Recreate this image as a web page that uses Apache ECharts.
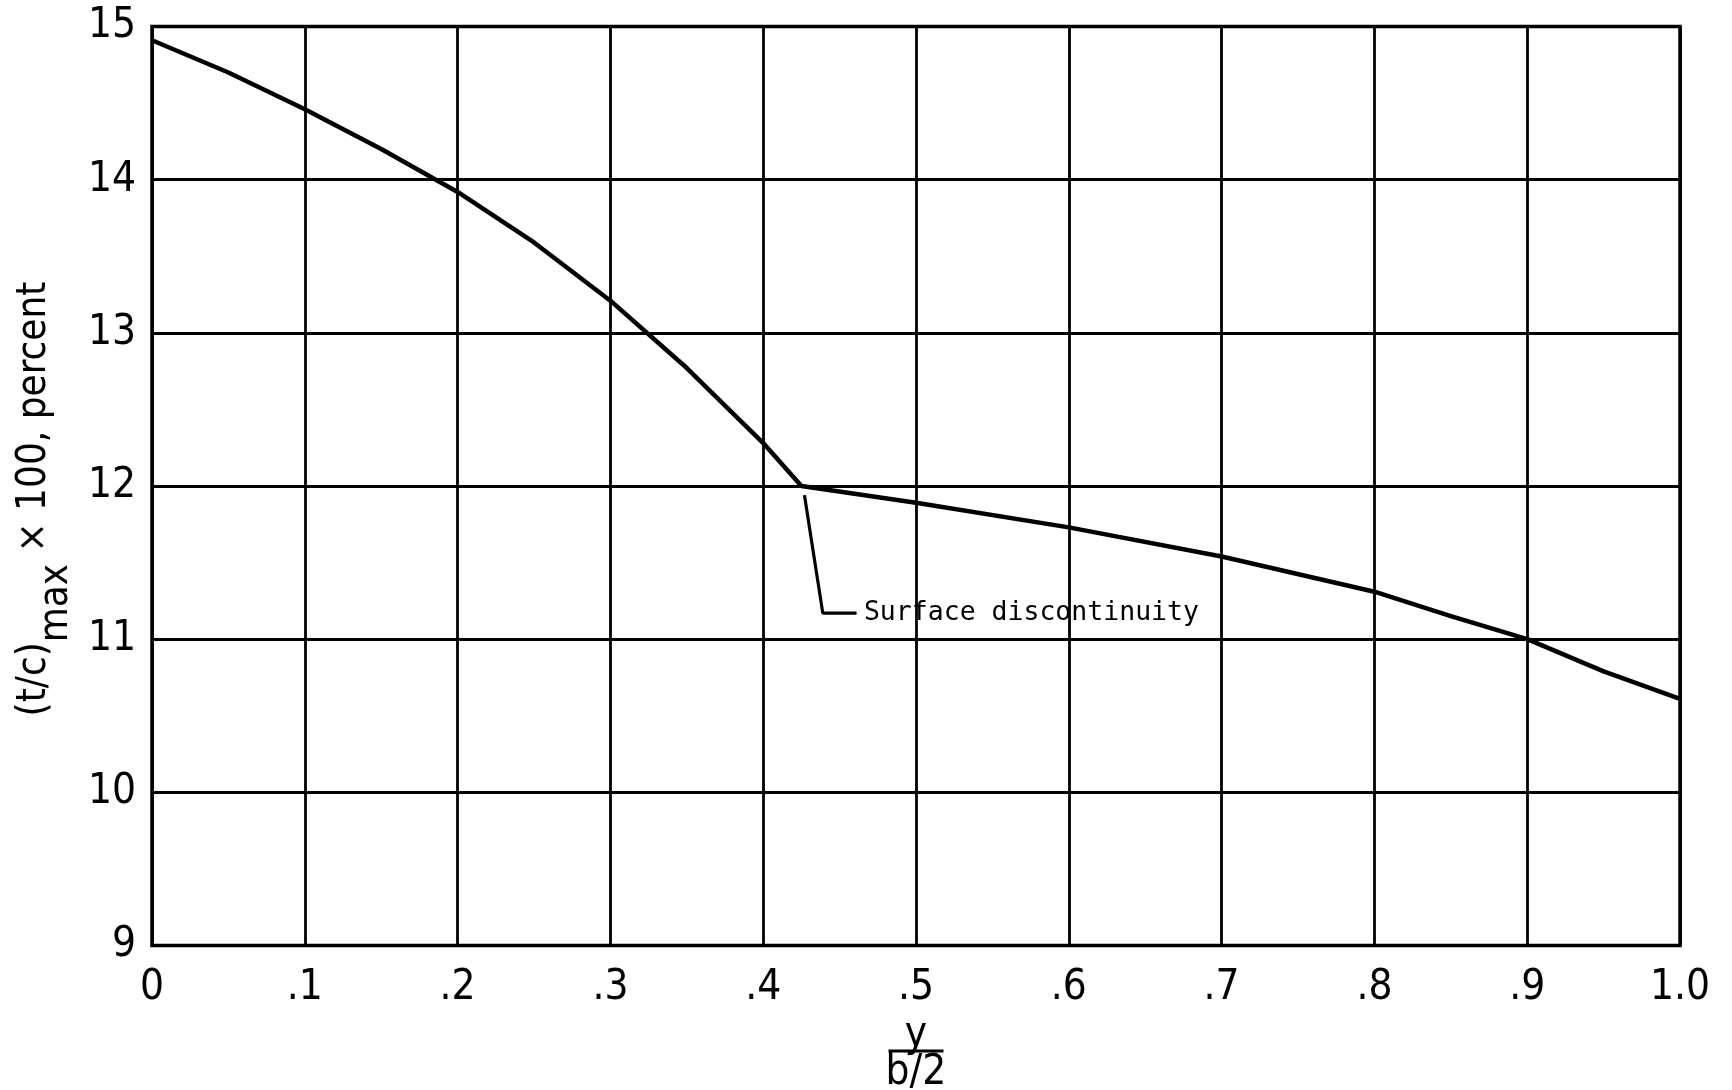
<!DOCTYPE html>
<html>
<head>
<meta charset="utf-8">
<script src="https://cdn.jsdelivr.net/npm/echarts@6/dist/echarts.min.js"></script>
<style>
html,body{margin:0;padding:0;background:#fff;}
#c{width:1732px;height:1090px;}
</style>
</head>
<body>
<div id="c"></div>
<script>
// ---- data ----
var spanX = [0, 0.05, 0.1, 0.15, 0.2, 0.25, 0.3, 0.35, 0.4, 0.425, 0.5, 0.6, 0.7, 0.8, 0.85, 0.9, 0.95, 1.0];
var thickness = [14.91, 14.70, 14.46, 14.20, 13.92, 13.59, 13.21, 12.77, 12.28, 12.0, 11.89, 11.73, 11.54, 11.31, 11.15, 11.00, 10.79, 10.61];
var leaderX = [0.427, 0.439, 0.461];
var leaderY = [11.94, 11.17, 11.17];
var annotationText = 'Surface discontinuity';
var xTickLabels = ['0', '.1', '.2', '.3', '.4', '.5', '.6', '.7', '.8', '.9', '1.0'];
var yTickLabels = ['9', '10', '11', '12', '13', '14', '15'];

var FONT = '"Liberation Sans Narrow", "DejaVu Sans Condensed", "Roboto Condensed", "DejaVu Sans", sans-serif';

var curveData = spanX.map(function (x, i) { return [x, thickness[i]]; });
var leaderData = leaderX.map(function (x, i) {
  var item = { value: [x, leaderY[i]] };
  if (i === leaderX.length - 1) {
    item.label = {
      show: true, position: 'right', distance: 7,
      formatter: annotationText,
      fontFamily: '"DejaVu Sans Mono", "Liberation Mono", monospace',
      fontSize: 26.5, color: '#000'
    };
  }
  return item;
});

var chart = echarts.init(document.getElementById('c'), null, { renderer: 'canvas' });
chart.setOption({
  backgroundColor: '#fff',
  animation: false,
  grid: {
    left: 152, right: 52, top: 26.5, bottom: 144.5,
    containLabel: false, outerBoundsMode: 'none',
    show: true, borderColor: '#000', borderWidth: 3.5, backgroundColor: 'transparent'
  },
  xAxis: {
    type: 'value', min: 0, max: 1, interval: 0.1,
    axisLine: { show: false }, axisTick: { show: false },
    splitLine: { show: true, lineStyle: { color: '#000', width: 2.8 } },
    axisLabel: {
      margin: 22, color: '#000', fontSize: 42, fontFamily: FONT,
      formatter: function (v) { return xTickLabels[Math.round(v * 10)]; }
    },
    name: '{y|y}\n{bar| }\n{b|b/2}',
    nameLocation: 'middle', nameGap: 56,
    nameTextStyle: {
      rich: {
        y: { fontSize: 42, fontFamily: FONT, color: '#000', lineHeight: 28, align: 'center' },
        bar: { fontSize: 1, width: 55, height: 3, lineHeight: 3, backgroundColor: '#000', align: 'center' },
        b: { fontSize: 42, fontFamily: FONT, color: '#000', lineHeight: 42, align: 'center' }
      }
    }
  },
  yAxis: {
    type: 'value', min: 9, max: 15, interval: 1,
    axisLine: { show: false }, axisTick: { show: false },
    splitLine: { show: true, lineStyle: { color: '#000', width: 2.8 } },
    axisLabel: {
      margin: 16, color: '#000', fontSize: 42, fontFamily: FONT,
      formatter: function (v) { return yTickLabels[Math.round(v - 9)]; }
    },
    name: '{a|(t/c)}{s|max}{a| × 100, percent}',
    nameLocation: 'middle', nameRotate: 90, nameGap: 80,
    nameTextStyle: {
      padding: [0, 26, 0, 0],
      rich: {
        a: { fontSize: 40, fontFamily: FONT, color: '#000', lineHeight: 40, verticalAlign: 'top' },
        s: { fontSize: 40, fontFamily: FONT, color: '#000', lineHeight: 40, verticalAlign: 'top', padding: [22, 0, 0, 0] }
      }
    }
  },
  series: [
    {
      type: 'line', data: curveData, showSymbol: false, symbol: 'none',
      lineStyle: { color: '#000', width: 4.5, join: 'round' }, z: 5
    },
    {
      type: 'line', data: leaderData, showSymbol: true, symbol: 'circle', symbolSize: 1,
      itemStyle: { color: '#000' },
      lineStyle: { color: '#000', width: 3.2 }, z: 5
    }
  ]
});
</script>
</body>
</html>
